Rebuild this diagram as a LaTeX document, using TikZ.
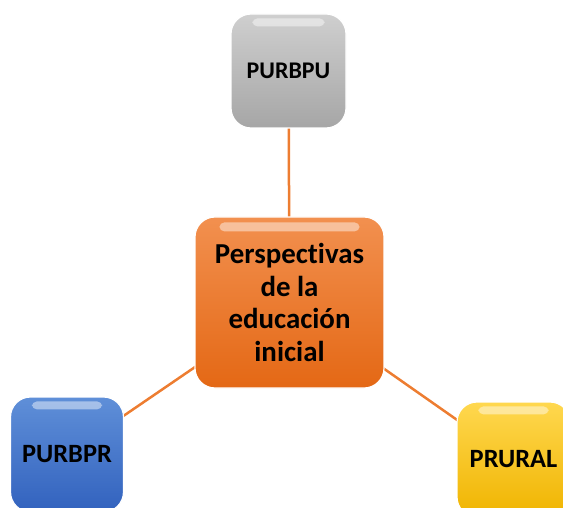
\documentclass[tikz,border=0pt]{standalone}
\usepackage{fontspec}
\setmainfont[Ligatures=NoCommon]{Carlito}
\usetikzlibrary{backgrounds}
\definecolor{lineor}{HTML}{ED7D31}
\definecolor{ortop}{HTML}{F2904F}
\definecolor{orbot}{HTML}{E46815}
\definecolor{grtop}{HTML}{CFCFCF}
\definecolor{grbot}{HTML}{A6A6A6}
\definecolor{bltop}{HTML}{5F8FD8}
\definecolor{blbot}{HTML}{3262BE}
\definecolor{yetop}{HTML}{FFD84F}
\definecolor{yebot}{HTML}{F0B400}
\tikzset{
  box/.style={rectangle, rounded corners=20bp, draw=white, line width=1.2bp,
    align=center, font=\bfseries, text=black, inner sep=0pt},
  small/.style={box, minimum width=113bp, minimum height=115bp, font=\fontsize{26.5}{30}\selectfont\bfseries},
  link/.style={draw=lineor, line width=2.5bp},
  gloss/.style={fill=white, opacity=0.45, rounded corners=5bp}
}
\begin{document}
\begin{tikzpicture}[x=1bp,y=-1bp]
\useasboundingbox (0,0) rectangle (563,508);
\clip (0,0) rectangle (563,508);
\node[small, top color=grtop, bottom color=grbot, minimum width=115bp, minimum height=114bp,
  font=\fontsize{24}{28}\selectfont\bfseries] (pu) at (288.5,71) {PURBPU};
\node[box, top color=ortop, bottom color=orbot, minimum width=189bp, minimum height=171bp,
  font=\fontsize{29}{32.5}\selectfont\bfseries] (c) at (289.5,302.5) {Perspectivas\\de la\\educación\\inicial};
\node[small, top color=bltop, bottom color=blbot] (pr) at (67,454.5) {PURBPR};
\node[small, top color=yetop, bottom color=yebot] (ru) at (513.5,459.5) {PRURAL};
\begin{pgfonlayer}{background}
\draw[link] (pu.center) -- (c.center);
\draw[link] (pr.center) -- (c.center);
\draw[link] (ru.center) -- (c.center);
\end{pgfonlayer}
% glossy highlights
\fill[gloss] ([xshift=22bp,yshift=-5bp]pu.north west) rectangle ([xshift=-22bp,yshift=-13bp]pu.north east);
\fill[gloss] ([xshift=25bp,yshift=-6bp]c.north west) rectangle ([xshift=-25bp,yshift=-15bp]c.north east);
\fill[gloss] ([xshift=22bp,yshift=-5bp]pr.north west) rectangle ([xshift=-22bp,yshift=-13bp]pr.north east);
\fill[gloss] ([xshift=22bp,yshift=-5bp]ru.north west) rectangle ([xshift=-22bp,yshift=-13bp]ru.north east);
\end{tikzpicture}
\end{document}
